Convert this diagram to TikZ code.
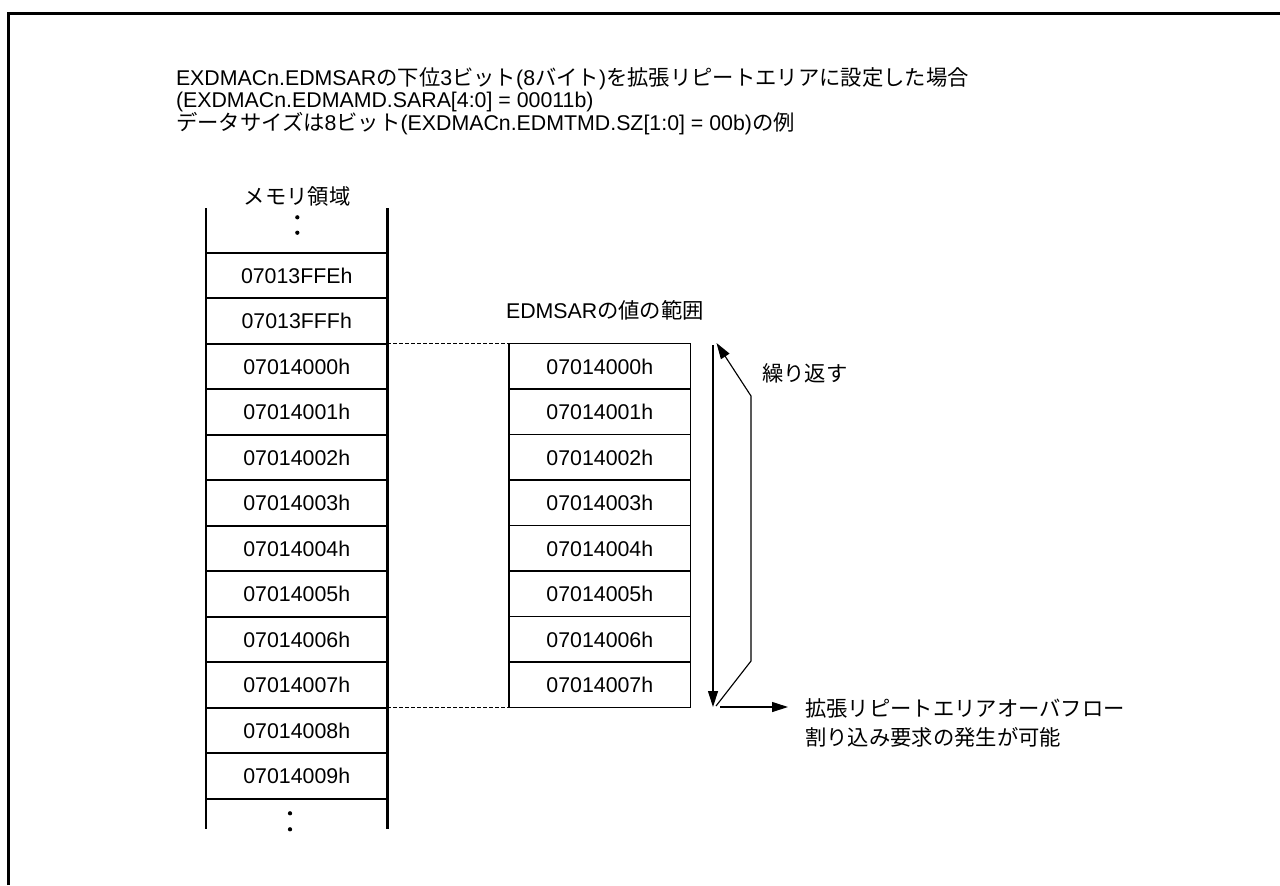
\documentclass[tikz,border=0pt]{standalone}
\usepackage{fontspec}
\setmainfont{Liberation Sans}
\newfontfamily\jpfont{Noto Sans CJK JP}
\usetikzlibrary{arrows.meta}
\newcommand\J[1]{{\jpfont #1}}
\tikzset{
  txt/.style={font=\fontsize{16}{17}\selectfont, inner sep=0pt, outer sep=0pt},
  memcell/.style={txt, draw, line width=1.2pt, minimum width=136.1pt, minimum height=34.125pt},
  edmcell/.style={txt, draw, line width=1.1pt, minimum width=136.3pt, minimum height=34.125pt},
  colwall/.style={line width=2pt},
  frameline/.style={line width=2.2pt},
  guide/.style={line width=0.75pt, dash pattern=on 3pt off 1.5pt},
  flow/.style={line width=0.85pt, -{Triangle[length=12pt,width=7.5pt]}},
  dotmark/.style={fill=black, draw=none},
}
\begin{document}
\begin{tikzpicture}[x=0.75pt,y=-0.75pt]
\useasboundingbox (0,0) rectangle (1280,885);
% frame
\coordinate (fa) at (8.7,885);
\coordinate (fb) at (8.7,13.5);
\coordinate (fc) at (1280,13.5);
\draw[frameline] (fa) -- (fb) -- (fc);
% title
\node[txt, anchor=base west] (t1) at (176,85) {EXDMACn.EDMSAR\J{の下位}3\J{ビット}(8\J{バイト})\J{を拡張リピートエリアに設定した場合}};
\node[txt, anchor=base west] (t2) at (176,107.5) {(EXDMACn.EDMAMD.SARA[4:0] = 00011b)};
\node[txt, anchor=base west] (t3) at (176,130) {\J{データサイズは}8\J{ビット}(EXDMACn.EDMTMD.SZ[1:0] = 00b)\J{の例}};
% memory column
\node[txt] (memlbl) at (297,196) {\J{メモリ領域}};
\foreach \t [count=\i from 0] in {07013FFEh,07013FFFh,07014000h,07014001h,07014002h,07014003h,07014004h,07014005h,07014006h,07014007h,07014008h,07014009h}
  \node[memcell] (m\i) at (296.75,275.45+45.5*\i) {\t};
\coordinate (wl0) at (206,208);
\coordinate (wl1) at (206,829);
\coordinate (wr0) at (387.5,208);
\coordinate (wr1) at (387.5,829);
\draw[colwall] (wl0) -- (wl1);
\draw[colwall] (wr0) -- (wr1);
\fill[dotmark] (297.3,217.3) circle (1.6pt);
\fill[dotmark] (297.3,232.7) circle (1.6pt);
\fill[dotmark] (290,813.3) circle (1.6pt);
\fill[dotmark] (290,829.3) circle (1.6pt);
% EDMSAR column
\node[txt] (edmlbl) at (605,310) {EDMSAR\J{の値の範囲}};
\foreach \t [count=\i from 0] in {07014000h,07014001h,07014002h,07014003h,07014004h,07014005h,07014006h,07014007h}
  \node[edmcell] (e\i) at (599.85,366.45+45.5*\i) {\t};
\draw[guide] (m2.north east) -- (e0.north west);
\draw[guide] (m9.south east) -- (e7.south west);
% repeat arrows
\coordinate (d0) at (713,345);
\coordinate (d1) at (713,707);
\draw[flow] (d0) -- (d1);
\coordinate (r0) at (716,706);
\coordinate (r1) at (751,661);
\coordinate (r2) at (751,396);
\coordinate (r3) at (716.5,343);
\draw[flow] (r0) -- (r1) -- (r2) -- (r3);
\node[txt, anchor=west] (rep) at (762,373.5) {\J{繰り返す}};
% overflow
\node[txt, anchor=base west, align=left, font=\fontsize{16}{21.4}\selectfont] (ovf) at (805,745.5) {\J{拡張リピートエリアオーバフロー}\\\J{割り込み要求の発生が可能}};
\coordinate (h0) at (720,707);
\coordinate (h1) at (788,707);
\draw[flow] (h0) -- (h1);
\end{tikzpicture}
\end{document}
